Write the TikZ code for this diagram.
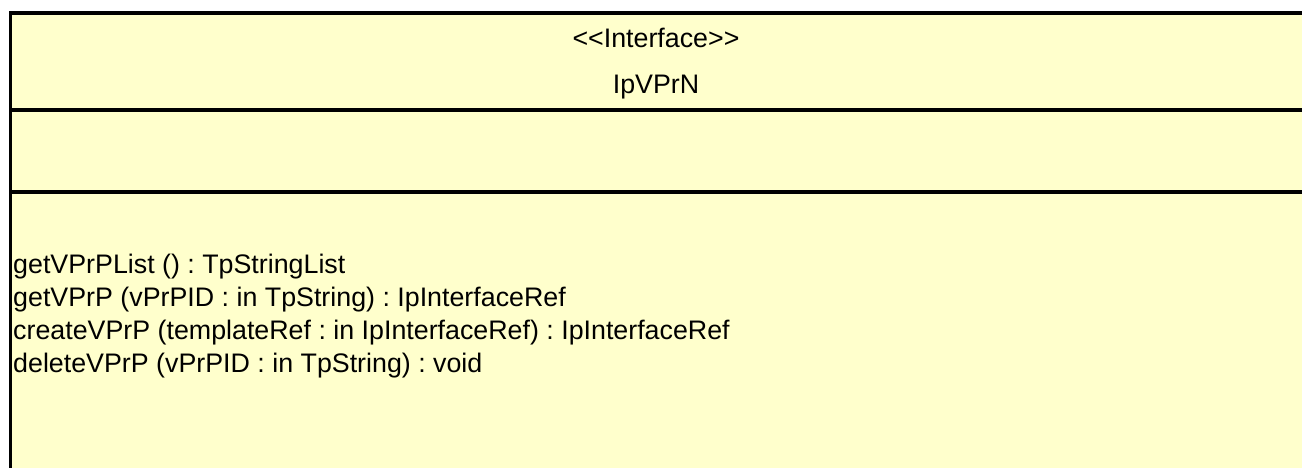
\documentclass[tikz,border=0pt]{standalone}
\usepackage{fontspec}
\setmainfont{Liberation Sans}
\usepackage{xcolor}
\definecolor{classfill}{RGB}{255,255,204}
\frenchspacing

\begin{document}
\begin{tikzpicture}[x=1pt,y=-1pt]
    \tikzstyle{T}=[inner sep=0pt,font=\fontsize{26.8}{30}\selectfont]
    \tikzstyle{H}=[T,anchor=base]
    \tikzstyle{M}=[T,anchor=base west]
    \tikzstyle{border}=[line width=3.5pt,line join=miter]

   \useasboundingbox (0,0) rectangle (1302,468);
   \clip (0,0) rectangle (1302,468);
   \fill [classfill] (10.5,13) rectangle (1320,480);

   \node [H] (stereo) at (656,48) {<{}<Interface>{}>};
   \node [H] (cname) at (656,94) {IpVPrN};

   \node [M] (m1) at (13,273) {getVPrPList () : TpStringList};
   \node [M] (m2) at (13,306) {getVPrP (vPrPID : in TpString) : IpInterfaceRef};
   \node [M] (m3) at (13,339) {createVPrP (templateRef : in IpInterfaceRef) : IpInterfaceRef};
   \node [M] (m4) at (13,372) {deleteVPrP (vPrPID : in TpString) : void};

   \draw [border] (10.5,480) -- (10.5,13) -- (1320,13);
   \draw [border] (10.5,110) -- (1320,110);
   \draw [border] (10.5,192) -- (1320,192);
\end{tikzpicture}
\end{document}
